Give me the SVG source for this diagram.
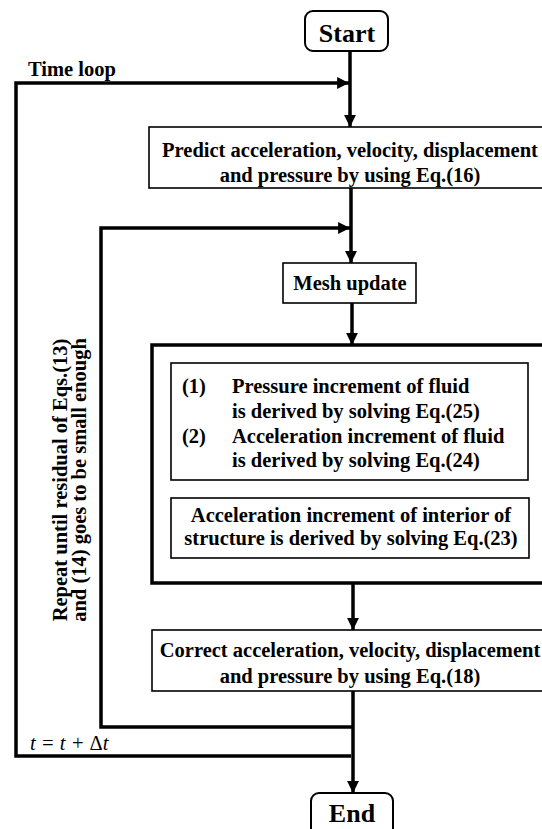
<svg xmlns="http://www.w3.org/2000/svg" width="542" height="829" viewBox="0 0 542 829">
<style>
  text { font-family: "Liberation Serif", "Times New Roman", serif; font-weight: bold; font-size: 20.5px; fill: #000; }
  .big { font-size: 26px; }
  .c { text-anchor: middle; }
  .box { fill: #fff; stroke: #000; stroke-width: 1.6; }
  .thick { fill: #fff; stroke: #000; stroke-width: 3.5; }
  .term { fill: #fff; stroke: #000; stroke-width: 2; }
  .line { fill: none; stroke: #000; stroke-width: 3.5; stroke-linejoin: miter; }
  .it { font-style: italic; font-weight: normal; }
</style>
<defs>
  <marker id="ah" viewBox="0 0 10 10" refX="10" refY="5" markerWidth="3.4" markerHeight="3.4" markerUnits="strokeWidth" orient="auto">
    <path d="M0,0 L10,5 L0,10 Z" fill="#000"/>
  </marker>
</defs>

<g id="connectors">
  <path class="line" d="M350,51 V127" marker-end="url(#ah)"/>
  <path class="line" d="M351,756 H16 V83 H349" marker-end="url(#ah)"/>
  <path class="line" d="M351,188 V263" marker-end="url(#ah)"/>
  <path class="line" d="M352,727 H101 V228 H350" marker-end="url(#ah)"/>
  <path class="line" d="M352,303 V345" marker-end="url(#ah)"/>
  <path class="line" d="M353,583 V630" marker-end="url(#ah)"/>
  <path class="line" d="M353,690 V793" marker-end="url(#ah)"/>
</g>

<g id="start">
  <rect class="term" x="305" y="11" width="83" height="40" rx="8"/>
  <text class="big c" x="347" y="42">Start</text>
</g>

<g id="time-loop-label">
  <text x="28" y="76">Time loop</text>
</g>

<g id="predict">
  <rect class="box" x="149" y="127" width="400" height="61"/>
  <text class="c" x="350" y="157">Predict acceleration, velocity, displacement</text>
  <text class="c" x="350" y="182">and pressure by using Eq.(16)</text>
</g>

<g id="mesh">
  <rect class="box" x="283" y="263" width="133" height="40"/>
  <text class="c" x="350" y="290">Mesh update</text>
</g>

<g id="solve-block">
  <rect class="thick" x="152" y="345" width="400" height="238"/>
</g>

<g id="fluid">
  <rect class="box" x="171" y="363" width="357" height="117"/>
  <text x="182" y="393">(1)</text>
  <text x="232" y="393">Pressure increment of fluid</text>
  <text x="232" y="418">is derived by solving Eq.(25)</text>
  <text x="182" y="443">(2)</text>
  <text x="232" y="443">Acceleration increment of fluid</text>
  <text x="232" y="467">is derived by solving Eq.(24)</text>
</g>

<g id="structure">
  <rect class="box" x="171" y="498" width="358" height="60"/>
  <text class="c" x="351" y="522">Acceleration increment of interior of</text>
  <text class="c" x="351" y="545">structure is derived by solving Eq.(23)</text>
</g>

<g id="correct">
  <rect class="box" x="152" y="630" width="400" height="61"/>
  <text class="c" x="350" y="657">Correct acceleration, velocity, displacement</text>
  <text class="c" x="350" y="683">and pressure by using Eq.(18)</text>
</g>

<g id="repeat-label">
  <text class="c" transform="translate(67,480) rotate(-90)">Repeat until residual of Eqs.(13)</text>
  <text class="c" transform="translate(86,480) rotate(-90)">and (14) goes to be small enough</text>
</g>

<g id="dt-label">
  <text x="30" y="750" class="it"><tspan>t</tspan> = <tspan>t</tspan> + <tspan font-style="normal">Δ</tspan><tspan>t</tspan></text>
</g>

<g id="end">
  <rect class="term" x="311" y="793" width="82" height="50" rx="8"/>
  <text class="big c" x="352" y="822">End</text>
</g>
</svg>
